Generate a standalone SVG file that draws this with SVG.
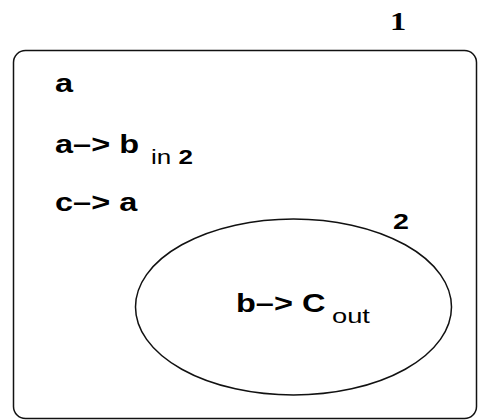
<svg xmlns="http://www.w3.org/2000/svg" width="478" height="420" viewBox="0 0 478 420">
<style>
.b{font-family:"Liberation Sans",Arial,sans-serif;font-weight:bold;font-size:25px;fill:#000}
.s{font-family:"Liberation Sans",Arial,sans-serif;font-size:20px;fill:#000}
.shape{fill:none;stroke:#111;stroke-width:1.5}
</style>
<rect width="478" height="420" fill="#fff"/>
<g id="region1">
<rect class="shape" x="13.5" y="50.5" width="463" height="368" rx="12" ry="12"/>
<text transform="translate(390,30) scale(1.3,1)" style="font-family:'Liberation Serif','Times New Roman',serif;font-weight:bold;font-size:25px">1</text>
<text class="b" transform="translate(55,92) scale(1.3,1)">a</text>
<text class="b" transform="translate(55,153) scale(1.3,1)">a–&gt; b</text>
<text class="s" transform="translate(151,164) scale(1.3,1)">in <tspan font-weight="bold">2</tspan></text>
<text class="b" transform="translate(55,211) scale(1.3,1)">c–&gt; a</text>
</g>
<g id="region2">
<ellipse class="shape" cx="293.5" cy="307" rx="158" ry="88" stroke-width="1.2"/>
<text class="b" transform="translate(393,229) scale(1.3,1)" style="font-size:22px">2</text>
<text class="b" transform="translate(236,312) scale(1.3,1)">b–&gt; C</text>
<text class="s" transform="translate(332,323) scale(1.3,1)" style="font-size:21px">out</text>
</g>
<g id="connectors"/>
</svg>
